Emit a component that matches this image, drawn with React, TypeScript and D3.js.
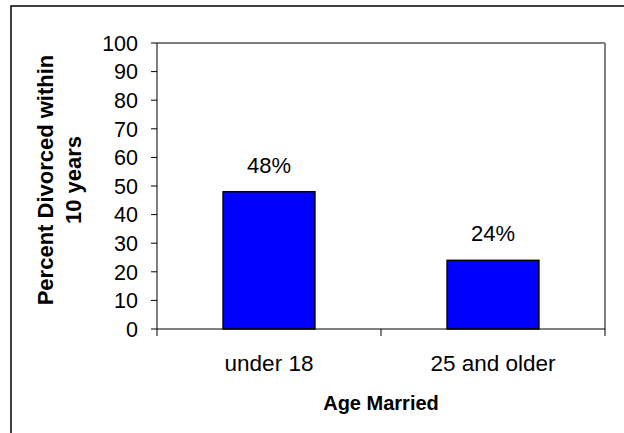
import React from "react";
import * as d3 from "d3";

const categories = ["under 18", "25 and older"];
const values = [48, 24];
const valueLabels = ["48%", "24%"];
const yTicks = [0, 10, 20, 30, 40, 50, 60, 70, 80, 90, 100];
const yTitleLines = ["Percent Divorced within", "10 years"];
const xTitle = "Age Married";

const W = 624;
const H = 433;
const plot = { left: 157, right: 605, top: 43, bottom: 329 };
const FONT = "'Liberation Sans', Arial, sans-serif";

export default function App() {
  const x = d3.scaleBand<string>().domain(categories).range([plot.left, plot.right]).paddingInner(0).paddingOuter(0);
  const y = d3.scaleLinear().domain([0, 100]).range([plot.bottom, plot.top]);
  const barW = x.bandwidth() * 0.41;
  const boundaries = [plot.left, ...categories.map((c) => (x(c) as number) + x.bandwidth())];
  const yMid = 180;

  return (
    <svg width={W} height={H} style={{ position: "absolute", left: 0, top: 0, background: "#fff" }} fontFamily={FONT}>
      <rect x={0} y={0} width={W} height={H} fill="#fff" />
      <rect x={11} y={6} width={W + 20} height={H + 20} fill="none" stroke="#000" strokeWidth={1.5} />
      {/* plot area frame */}
      <line x1={plot.left} x2={plot.right} y1={plot.top} y2={plot.top} stroke="#808080" strokeWidth={2} />
      <line x1={plot.right} x2={plot.right} y1={plot.top} y2={plot.bottom} stroke="#808080" strokeWidth={2} />
      {/* bars */}
      {categories.map((c, i) => {
        const cx = (x(c) as number) + x.bandwidth() / 2;
        return (
          <g key={c}>
            <rect x={cx - barW / 2} y={y(values[i])} width={barW} height={plot.bottom - y(values[i])} fill="#0000FF" stroke="#000" strokeWidth={1.5} />
            <text x={cx} y={y(values[i]) - 19} textAnchor="middle" fontSize={22} fill="#000">{valueLabels[i]}</text>
            <text x={cx} y={371} textAnchor="middle" fontSize={22.5} fill="#000">{c}</text>
          </g>
        );
      })}
      {/* y axis */}
      <line x1={plot.left} x2={plot.left} y1={plot.top} y2={plot.bottom} stroke="#000" strokeWidth={1} />
      {yTicks.map((t) => (
        <g key={t}>
          <line x1={plot.left - 6} x2={plot.left} y1={y(t)} y2={y(t)} stroke="#000" strokeWidth={1} />
          <text x={138} y={y(t)} dy="0.36em" textAnchor="end" fontSize={21.5} fill="#000">{t}</text>
        </g>
      ))}
      {/* x axis */}
      <line x1={plot.left} x2={plot.right} y1={plot.bottom} y2={plot.bottom} stroke="#000" strokeWidth={1} />
      {boundaries.map((b, i) => (
        <line key={i} x1={b} x2={b} y1={plot.bottom} y2={plot.bottom + 7} stroke="#000" strokeWidth={1} />
      ))}
      <text x={(plot.left + plot.right) / 2} y={410} textAnchor="middle" fontSize={20} fontWeight="bold" fill="#000">{xTitle}</text>
      <text transform={`translate(53,${yMid}) rotate(-90)`} textAnchor="middle" fontSize={22} fontWeight="bold" fill="#000">
        <tspan x={0} y={0}>{yTitleLines[0]}</tspan>
        <tspan x={0} y={28}>{yTitleLines[1]}</tspan>
      </text>
    </svg>
  );
}
